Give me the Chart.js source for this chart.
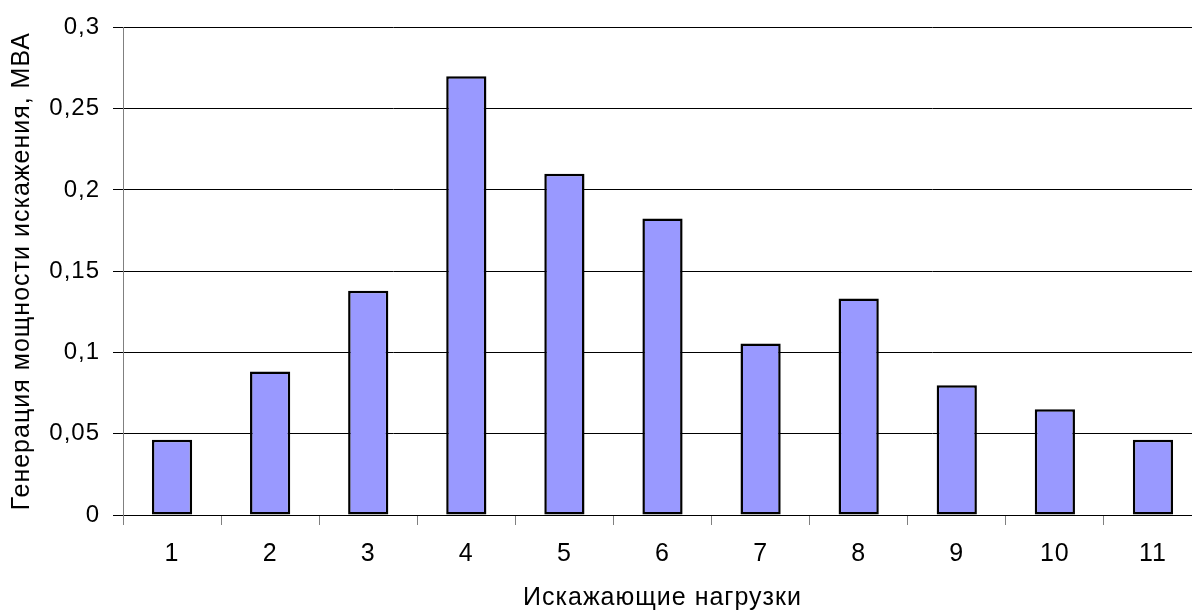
<!DOCTYPE html>
<html lang="ru">
<head>
<meta charset="utf-8">
<title>Генерация мощности искажения</title>
<script src="https://cdn.jsdelivr.net/npm/chart.js@4/dist/chart.umd.min.js"></script>
<style>
  html, body { margin: 0; padding: 0; background: #fff; overflow: hidden; }
  #wrap { width: 1192px; height: 610px; overflow: hidden; }
  canvas { display: block; }
</style>
</head>
<body>
<div id="wrap"><canvas id="chart" width="1210" height="610"></canvas></div>
<script>
// Distorting loads and their distortion-power generation, MVA
const categories = ['1', '2', '3', '4', '5', '6', '7', '8', '9', '10', '11'];
const distortionPower = [0.0463, 0.0883, 0.138, 0.270, 0.210, 0.1825, 0.1055, 0.1332, 0.0798, 0.065, 0.0463];
const yTicks = [0, 0.05, 0.1, 0.15, 0.2, 0.25, 0.3];
const xTitle = 'Искажающие нагрузки';
const yTitle = 'Генерация мощности искажения, МВА';

const FONT = '"Liberation Sans", Arial, sans-serif';

// decimal comma, no trailing zeros: 0,05 / 0,1 / 0,3
const fmt = v => String(Math.round(v * 100) / 100).replace('.', ',');

const spacing = {
  id: 'spacing',
  beforeDraw(chart) { chart.ctx.letterSpacing = '1px'; }
};

new Chart(document.getElementById('chart'), {
  type: 'bar',
  data: {
    labels: categories,
    datasets: [{
      data: distortionPower,
      backgroundColor: '#9999FF',
      borderColor: '#000000',
      borderWidth: 2.5,
      borderSkipped: false,
      barPercentage: 0.41,
      categoryPercentage: 1
    }]
  },
  options: {
    responsive: false,
    animation: false,
    events: [],
    layout: { padding: { top: 27, right: 8, left: 0, bottom: 0 } },
    plugins: { legend: { display: false }, tooltip: { enabled: false } },
    scales: {
      x: {
        offset: true,
        grid: {
          display: true,
          offset: true,
          drawOnChartArea: false,
          tickLength: 10,
          color: '#808080',
          lineWidth: 1
        },
        border: { display: true, color: '#000000', width: 1 },
        ticks: {
          color: '#000',
          padding: 14,
          maxRotation: 0,
          font: { family: FONT, size: 25 }
        },
        title: {
          display: true,
          text: xTitle,
          color: '#000',
          font: { family: FONT, size: 25 },
          padding: { top: 0, bottom: -3 }
        },
        afterFit(scale) { scale.height = 95; }
      },
      y: {
        min: 0,
        max: 0.3,
        afterBuildTicks(scale) { scale.ticks = yTicks.map(v => ({ value: v })); },
        grid: {
          color: '#000000',
          lineWidth: 1,
          tickLength: 10,
          drawTicks: true
        },
        border: { display: true, color: '#808080', width: 1 },
        ticks: {
          color: '#000',
          padding: 13,
          font: { family: FONT, size: 24 },
          callback: v => fmt(v)
        },
        title: {
          display: true,
          text: yTitle,
          color: '#000',
          font: { family: FONT, size: 25 },
          padding: { top: 7, bottom: 0 }
        },
        afterFit(scale) { scale.width = 123; }
      }
    }
  },
  plugins: [spacing]
});
</script>
</body>
</html>
